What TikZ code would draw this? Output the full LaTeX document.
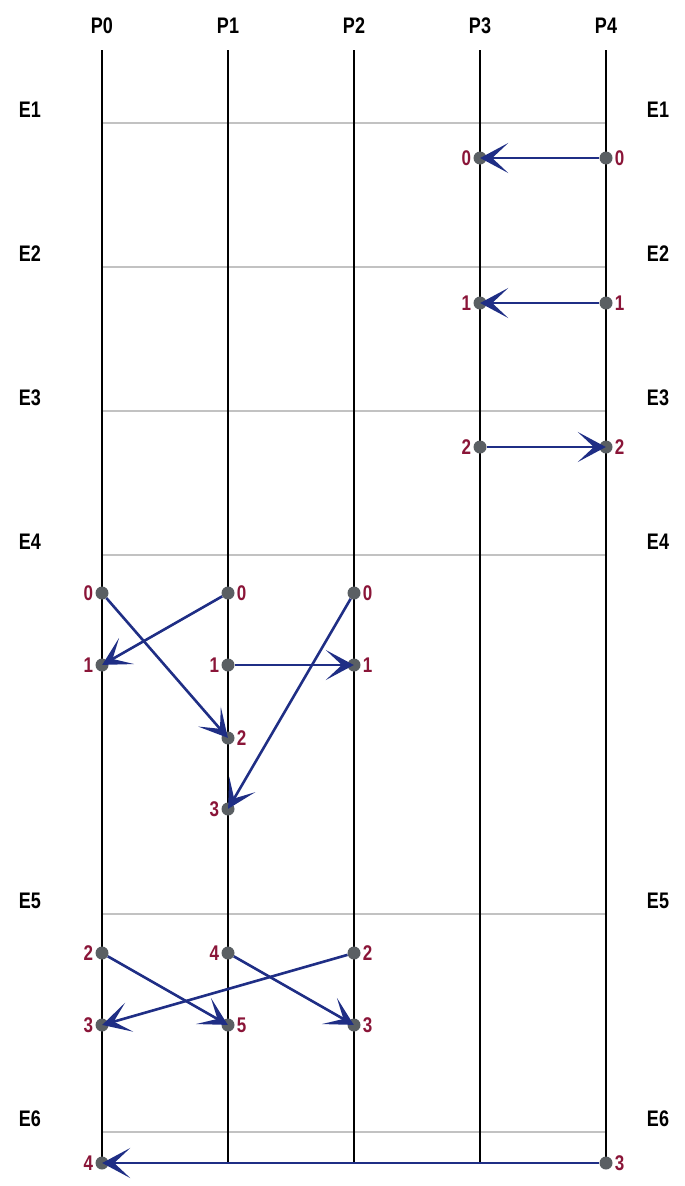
\documentclass[tikz,border=0pt]{standalone}
\usepackage{fontspec}
\usepackage{graphicx}
\setmainfont{Liberation Sans}
\usetikzlibrary{arrows.meta}
\definecolor{msg}{HTML}{1F2E85}
\definecolor{lab}{HTML}{8A1538}
\definecolor{dotc}{HTML}{5A5F63}
\definecolor{sep}{HTML}{C2C2C2}
\newcommand{\tall}[1]{\scalebox{1}[1.25]{#1}}
\tikzset{
  x=1pt, y=-1pt,
  proc/.style={font=\fontsize{18}{18}\selectfont\bfseries, text=black},
  epoch/.style={font=\fontsize{18}{18}\selectfont\bfseries, text=black},
  life/.style={line width=2.6pt, black},
  sepline/.style={line width=2.2pt, sep},
  ev/.style={circle, fill=dotc, inner sep=0pt, minimum size=13pt},
  num/.style={font=\fontsize{17}{17}\selectfont\bfseries, text=lab, inner sep=1pt},
  msgarrow/.style={line width=2.6pt, msg, -{Stealth[length=28pt,width=30pt,inset=16pt]}, shorten >=-6.5pt}
}
\begin{document}
\begin{tikzpicture}
\useasboundingbox (0,0) rectangle (685,1186);
% process headers
\foreach \i/\x in {0/102,1/228,2/354,3/480,4/606}{
  \node[proc] (h\i) at (\x,26) {\tall{P\i}};
  \coordinate (t\i) at (\x,50);
  \coordinate (b\i) at (\x,1162);
}
% epoch separators and labels
\foreach \e/\y in {1/123,2/267,3/411,4/555,5/914,6/1132}{
  \coordinate (sl\e) at (102,\y);
  \coordinate (sr\e) at (606,\y);
  \draw[sepline] (sl\e) -- (sr\e);
  \node[epoch] (el\e) at (30,\y-13) {\tall{E\e}};
  \node[epoch] (er\e) at (658,\y-13) {\tall{E\e}};
}
% lifelines
\foreach \i in {0,...,4}{ \draw[life] (t\i) -- (b\i); }
% events
% E1-E3
\node[ev] (p3a) at (480,158) {}; \node[num,anchor=east] at ([xshift=-1pt]p3a.west) {\tall{0}};
\node[ev] (p4a) at (606,158) {}; \node[num,anchor=west] at ([xshift=1pt]p4a.east) {\tall{0}};
\node[ev] (p3b) at (480,303) {}; \node[num,anchor=east] at ([xshift=-1pt]p3b.west) {\tall{1}};
\node[ev] (p4b) at (606,303) {}; \node[num,anchor=west] at ([xshift=1pt]p4b.east) {\tall{1}};
\node[ev] (p3c) at (480,447) {}; \node[num,anchor=east] at ([xshift=-1pt]p3c.west) {\tall{2}};
\node[ev] (p4c) at (606,447) {}; \node[num,anchor=west] at ([xshift=1pt]p4c.east) {\tall{2}};
% E4
\node[ev] (p0a) at (102,593) {}; \node[num,anchor=east] at ([xshift=-1pt]p0a.west) {\tall{0}};
\node[ev] (p1a) at (228,593) {}; \node[num,anchor=west] at ([xshift=1pt]p1a.east) {\tall{0}};
\node[ev] (p2a) at (354,593) {}; \node[num,anchor=west] at ([xshift=1pt]p2a.east) {\tall{0}};
\node[ev] (p0b) at (102,665) {}; \node[num,anchor=east] at ([xshift=-1pt]p0b.west) {\tall{1}};
\node[ev] (p1b) at (228,665) {}; \node[num,anchor=east] at ([xshift=-1pt]p1b.west) {\tall{1}};
\node[ev] (p2b) at (354,665) {}; \node[num,anchor=west] at ([xshift=1pt]p2b.east) {\tall{1}};
\node[ev] (p1c) at (228,738) {}; \node[num,anchor=west] at ([xshift=1pt]p1c.east) {\tall{2}};
\node[ev] (p1d) at (228,809) {}; \node[num,anchor=east] at ([xshift=-1pt]p1d.west) {\tall{3}};
% E5
\node[ev] (p0c) at (102,953) {}; \node[num,anchor=east] at ([xshift=-1pt]p0c.west) {\tall{2}};
\node[ev] (p1e) at (228,953) {}; \node[num,anchor=east] at ([xshift=-1pt]p1e.west) {\tall{4}};
\node[ev] (p2c) at (354,953) {}; \node[num,anchor=west] at ([xshift=1pt]p2c.east) {\tall{2}};
\node[ev] (p0d) at (102,1025) {}; \node[num,anchor=east] at ([xshift=-1pt]p0d.west) {\tall{3}};
\node[ev] (p1f) at (228,1025) {}; \node[num,anchor=west] at ([xshift=1pt]p1f.east) {\tall{5}};
\node[ev] (p2d) at (354,1025) {}; \node[num,anchor=west] at ([xshift=1pt]p2d.east) {\tall{3}};
% E6
\node[ev] (p0e) at (102,1163) {}; \node[num,anchor=east] at ([xshift=-1pt]p0e.west) {\tall{4}};
\node[ev] (p4d) at (606,1163) {}; \node[num,anchor=west] at ([xshift=1pt]p4d.east) {\tall{3}};
% messages
\draw[msgarrow] (p4a) -- (p3a);
\draw[msgarrow] (p4b) -- (p3b);
\draw[msgarrow] (p3c) -- (p4c);
\draw[msgarrow] (p1a) -- (p0b);
\draw[msgarrow] (p0a) -- (p1c);
\draw[msgarrow] (p1b) -- (p2b);
\draw[msgarrow] (p2a) -- (p1d);
\draw[msgarrow] (p0c) -- (p1f);
\draw[msgarrow] (p1e) -- (p2d);
\draw[msgarrow] (p2c) -- (p0d);
\draw[msgarrow] (p4d) -- (p0e);
\end{tikzpicture}
\end{document}
